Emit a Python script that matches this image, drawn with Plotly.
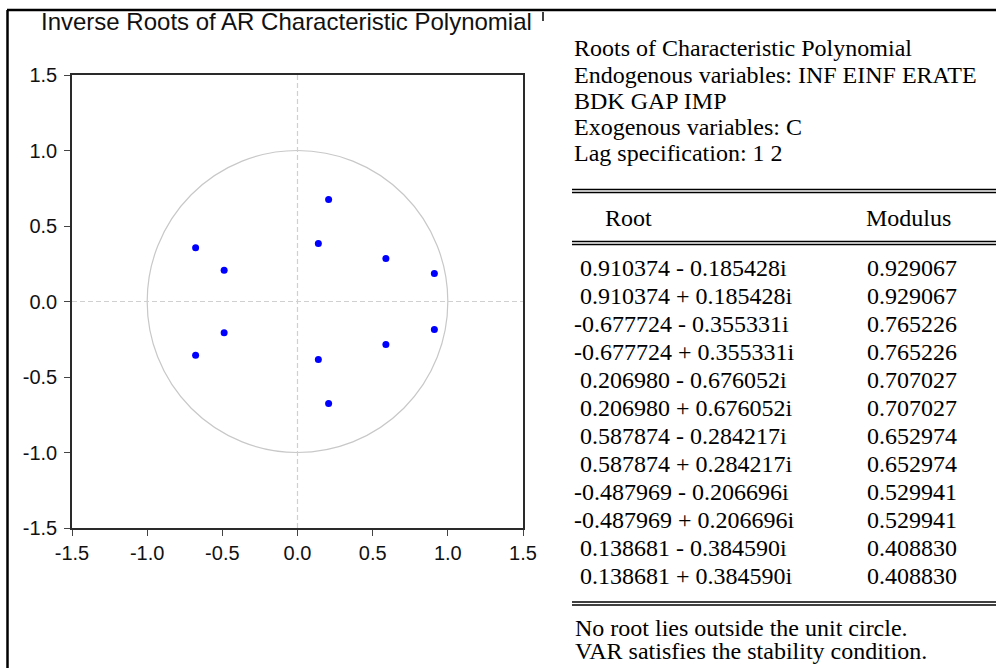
import plotly.graph_objects as go

# ---- data ----
root_re = [0.910374, 0.910374, -0.677724, -0.677724, 0.206980, 0.206980,
           0.587874, 0.587874, -0.487969, -0.487969, 0.138681, 0.138681]
root_im = [-0.185428, 0.185428, -0.355331, 0.355331, -0.676052, 0.676052,
           -0.284217, 0.284217, -0.206696, 0.206696, -0.384590, 0.384590]
modulus = [0.929067, 0.929067, 0.765226, 0.765226, 0.707027, 0.707027,
           0.652974, 0.652974, 0.529941, 0.529941, 0.408830, 0.408830]
tick_vals = [-1.5, -1.0, -0.5, 0.0, 0.5, 1.0, 1.5]
tick_text = ["-1.5", "-1.0", "-0.5", "0.0", "0.5", "1.0", "1.5"]
header_lines = ["Roots of Characteristic Polynomial",
                "Endogenous variables: INF EINF ERATE",
                "BDK GAP IMP",
                "Exogenous variables: C",
                "Lag specification: 1 2"]
footer_lines = ["No root lies outside the unit circle.",
                "VAR satisfies the stability condition."]

W, H = 996, 668
def px(x):
    return x / W
def py(y):
    return 1 - y / H

SANS = "Liberation Sans, Arial, sans-serif"
SERIF = "Liberation Serif, Times New Roman, serif"

fig = go.Figure()
fig.add_trace(go.Scatter(x=root_re, y=root_im, mode="markers",
                         marker=dict(color="#0000ff", size=7, line=dict(width=0)),
                         showlegend=False, hoverinfo="x+y"))

axis_common = dict(range=[-1.5, 1.5], tickvals=tick_vals, ticktext=tick_text,
                   showline=True, mirror=True, linecolor="#2a2a2a", linewidth=1.5,
                   ticks="outside", ticklen=6, tickwidth=1.2, tickcolor="#444",
                   showgrid=False, zeroline=False, fixedrange=True,
                   tickfont=dict(family=SANS, size=20, color="#111"))

fig.update_layout(
    width=W, height=H,
    margin=dict(l=0, r=0, t=0, b=0, autoexpand=False),
    paper_bgcolor="white", plot_bgcolor="white",
    xaxis=dict(domain=[px(72), px(523)], **axis_common),
    yaxis=dict(domain=[py(528), py(75)], ticklabelstandoff=3, **axis_common),
)

shapes = []
# unit circle
shapes.append(dict(type="circle", xref="x", yref="y", x0=-1, y0=-1, x1=1, y1=1,
                   line=dict(color="#c8c8c8", width=1.2), layer="below"))
# dashed zero lines
shapes.append(dict(type="line", xref="x", yref="y", x0=0, x1=0, y0=-1.5, y1=1.5,
                   line=dict(color="#d0d0d0", width=1.2, dash="5px,3px"), layer="below"))
shapes.append(dict(type="line", xref="x", yref="y", x0=-1.5, x1=1.5, y0=0, y1=0,
                   line=dict(color="#d0d0d0", width=1.2, dash="5px,3px"), layer="below"))
# outer frame lines
shapes.append(dict(type="line", xref="paper", yref="paper", x0=px(7), x1=1, y0=py(10), y1=py(10),
                   line=dict(color="black", width=2.5)))
shapes.append(dict(type="line", xref="paper", yref="paper", x0=px(7.5), x1=px(7.5), y0=py(10), y1=0,
                   line=dict(color="black", width=2.5)))
shapes.append(dict(type="line", xref="paper", yref="paper", x0=px(543), x1=px(543), y0=py(12), y1=py(21),
                   line=dict(color="black", width=1.5)))
# double rules in table
for yy in [189.5, 192.5, 241.5, 244.5, 602, 605]:
    shapes.append(dict(type="line", xref="paper", yref="paper", x0=px(572), x1=1, y0=py(yy), y1=py(yy),
                       line=dict(color="black", width=1.3)))
fig.update_layout(shapes=shapes)

ann = []
ann.append(dict(text="Inverse Roots of AR Characteristic Polynomial", x=px(39), y=py(21),
                xref="paper", yref="paper", xanchor="left", yanchor="middle", showarrow=False,
                font=dict(family=SANS, size=24, color="#111")))
FS = 24
header_y = [48, 75, 101, 127, 153]
for t, yy in zip(header_lines, header_y):
    ann.append(dict(text=t, x=px(572), y=py(yy), xref="paper", yref="paper",
                    xanchor="left", yanchor="middle", showarrow=False,
                    font=dict(family=SERIF, size=FS, color="black")))
ann.append(dict(text="Root", x=px(603), y=py(218), xref="paper", yref="paper",
                xanchor="left", yanchor="middle", showarrow=False,
                font=dict(family=SERIF, size=FS, color="black")))
ann.append(dict(text="Modulus", x=px(864), y=py(218), xref="paper", yref="paper",
                xanchor="left", yanchor="middle", showarrow=False,
                font=dict(family=SERIF, size=FS, color="black")))
for i, (re, im, m) in enumerate(zip(root_re, root_im, modulus)):
    sign = "-" if im < 0 else "+"
    txt = f"{re:.6f} {sign} {abs(im):.6f}i"
    yy = 268 + 28 * i
    ann.append(dict(text=txt, x=px(572 if re < 0 else 578), y=py(yy), xref="paper", yref="paper",
                    xanchor="left", yanchor="middle", showarrow=False,
                    font=dict(family=SERIF, size=FS, color="black")))
    ann.append(dict(text=f"{m:.6f}", x=px(865), y=py(yy), xref="paper", yref="paper",
                    xanchor="left", yanchor="middle", showarrow=False,
                    font=dict(family=SERIF, size=FS, color="black")))
for t, yy in zip(footer_lines, [628, 651]):
    ann.append(dict(text=t, x=px(573), y=py(yy), xref="paper", yref="paper",
                    xanchor="left", yanchor="middle", showarrow=False,
                    font=dict(family=SERIF, size=FS, color="black")))
fig.update_layout(annotations=ann)

fig.write_html("out.html", config={"displayModeBar": False},
               post_script="document.body.style.margin='0px';")
